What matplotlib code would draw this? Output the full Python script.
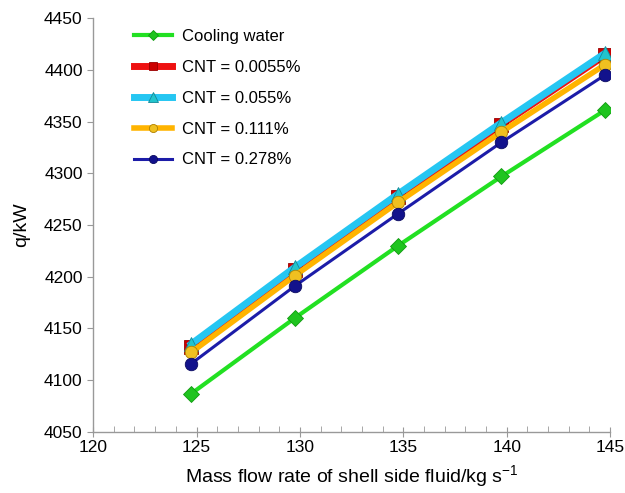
import numpy as np
import matplotlib
matplotlib.use("Agg")
import matplotlib.pyplot as plt
from matplotlib.ticker import MultipleLocator

plt.rcParams["font.family"] = ["Liberation Sans", "DejaVu Sans"]
plt.rcParams["mathtext.fontset"] = "custom"
plt.rcParams["mathtext.rm"] = "Liberation Sans"
plt.rcParams["mathtext.it"] = "Liberation Sans:italic"

# mass flow rate of shell side fluid (kg/s)
flow = [124.75, 129.75, 134.75, 139.75, 144.75]

# heat duty q (kW)
q_water = [4087, 4160, 4230, 4297, 4361]
q_cnt_00055 = [4132, 4207, 4277, 4347, 4414]
q_cnt_0055 = [4135, 4209, 4280, 4349, 4416]
q_cnt_0111 = [4127, 4201, 4272, 4340, 4405]
q_cnt_0278 = [4116, 4191, 4261, 4330, 4395]

labels = ["Cooling water", "CNT = 0.0055%", "CNT = 0.055%", "CNT = 0.111%", "CNT = 0.278%"]

fig = plt.figure(figsize=(6.25, 4.93), dpi=100)
ax = fig.add_axes([0.149, 0.124, 0.827, 0.839])

ax.plot(flow, q_water, color="#22e022", lw=3, marker="D", ms=8,
        mfc="#1fc41f", mec="#119911", mew=0.6, label=labels[0], zorder=3)
ax.plot(flow, q_cnt_00055, color="#ee1111", lw=5, marker="s", ms=9.5,
        mfc="#cc0000", mec="#990000", mew=0.6, label=labels[1], zorder=3)
ax.plot(flow, q_cnt_0055, color="#25c6f2", lw=5, marker="^", ms=10.5,
        mfc="#22c4cc", mec="#118899", mew=0.6, label=labels[2], zorder=4)
ax.plot(flow, q_cnt_0111, color="#ffb400", lw=4, marker="o", ms=9,
        mfc="#f0c020", mec="#b08000", mew=0.6, label=labels[3], zorder=5)
ax.plot(flow, q_cnt_0278, color="#1c1ca8", lw=2.2, marker="o", ms=9,
        mfc="#12128c", mec="#0a0a60", mew=0.6, label=labels[4], zorder=6)

ax.set_xlim(120, 145)
ax.set_ylim(4050, 4450)
ax.xaxis.set_major_locator(MultipleLocator(5))
ax.xaxis.set_minor_locator(MultipleLocator(1))
ax.yaxis.set_major_locator(MultipleLocator(50))

for side in ["top", "right"]:
    ax.spines[side].set_visible(False)
for side in ["left", "bottom"]:
    ax.spines[side].set_color("#999999")
    ax.spines[side].set_linewidth(1)

ax.tick_params(axis="x", which="major", direction="inout", length=7, color="#999999",
               labelsize=12.5, pad=2)
ax.tick_params(axis="x", which="minor", direction="in", length=4, color="#999999")
ax.tick_params(axis="y", which="major", direction="out", length=4, color="#999999",
               labelsize=12.5)

ax.set_xlabel("Mass flow rate of shell side fluid/kg s$^{\u22121}$", fontsize=14, labelpad=6)
ax.set_ylabel("q/kW", fontsize=14, labelpad=10)

ax.legend(loc="upper left", bbox_to_anchor=(0.05, 1.01), frameon=False, fontsize=12,
          handlelength=2.3, handletextpad=0.6, labelspacing=0.95, markerscale=0.65)

fig.savefig("out.png", dpi=100)
